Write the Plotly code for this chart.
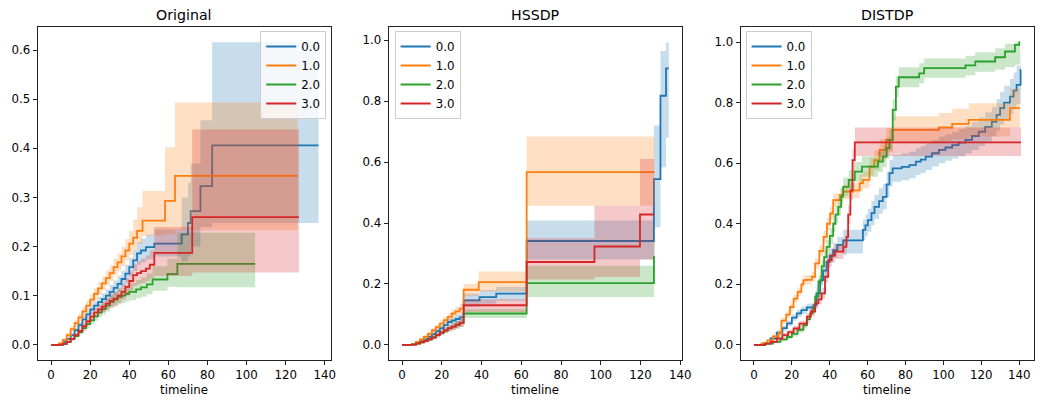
import plotly.graph_objects as go

# ---------------- data ----------------
GROUPS = ["0.0", "1.0", "2.0", "3.0"]
TITLES = ["Original", "HSSDP", "DISTDP"]
X_TICKS = [0, 20, 40, 60, 80, 100, 120, 140]

# ---- Original ----
orig_t0 = [0, 4, 6, 8, 10, 12, 14, 16, 18, 20, 22, 24, 26, 28, 30, 32, 34, 36, 38, 40, 42, 44, 46, 48.5, 52.8, 66.8, 70, 71.4, 76.4, 82.4, 136.8]
orig_v0 = [0, 0.002, 0.006, 0.012, 0.02, 0.03, 0.04, 0.052, 0.062, 0.072, 0.08, 0.087, 0.093, 0.1, 0.108, 0.116, 0.124, 0.134, 0.145, 0.158, 0.172, 0.186, 0.192, 0.199, 0.206, 0.225, 0.248, 0.272, 0.323, 0.406, 0.406]
orig_lo0 = [0, 0.001, 0.004, 0.009, 0.016, 0.025, 0.034, 0.045, 0.054, 0.063, 0.07, 0.076, 0.081, 0.087, 0.094, 0.101, 0.108, 0.117, 0.127, 0.139, 0.151, 0.163, 0.168, 0.174, 0.18, 0.17, 0.18, 0.2, 0.24, 0.248, 0.248]
orig_hi0 = [0, 0.003, 0.008, 0.015, 0.024, 0.035, 0.046, 0.059, 0.07, 0.081, 0.09, 0.098, 0.105, 0.113, 0.122, 0.131, 0.14, 0.151, 0.163, 0.177, 0.193, 0.209, 0.216, 0.224, 0.235, 0.3, 0.33, 0.369, 0.457, 0.616, 0.616]

orig_t1 = [0, 4, 6, 8, 10, 12, 14, 16, 18, 20, 22, 24, 26, 28, 30, 32, 34, 36, 38, 40, 42, 44, 46.8, 58.3, 63.4, 126.2]
orig_v1 = [0, 0.003, 0.01, 0.02, 0.032, 0.044, 0.056, 0.068, 0.08, 0.092, 0.104, 0.115, 0.125, 0.136, 0.146, 0.158, 0.168, 0.18, 0.192, 0.206, 0.218, 0.232, 0.253, 0.293, 0.344, 0.344]
orig_lo1 = [0, 0.001, 0.007, 0.015, 0.026, 0.037, 0.048, 0.059, 0.07, 0.081, 0.092, 0.102, 0.111, 0.121, 0.13, 0.141, 0.15, 0.16, 0.171, 0.183, 0.193, 0.205, 0.222, 0.225, 0.233, 0.233]
orig_hi1 = [0, 0.005, 0.013, 0.025, 0.038, 0.051, 0.064, 0.077, 0.09, 0.103, 0.116, 0.128, 0.139, 0.151, 0.162, 0.175, 0.186, 0.2, 0.215, 0.232, 0.255, 0.28, 0.313, 0.402, 0.493, 0.493]

orig_t2 = [0, 6, 8, 10, 12, 14, 16, 18, 20, 22, 24, 26, 28, 30, 32, 34, 36, 38, 40, 43.5, 46, 49, 51.9, 59.5, 64.6, 104.4]
orig_v2 = [0, 0.002, 0.006, 0.012, 0.018, 0.026, 0.034, 0.042, 0.05, 0.058, 0.066, 0.073, 0.08, 0.087, 0.092, 0.097, 0.1, 0.104, 0.108, 0.113, 0.117, 0.123, 0.133, 0.144, 0.165, 0.165]
orig_lo2 = [0, 0.001, 0.004, 0.009, 0.014, 0.021, 0.028, 0.035, 0.042, 0.049, 0.056, 0.062, 0.068, 0.074, 0.078, 0.082, 0.085, 0.088, 0.091, 0.095, 0.098, 0.103, 0.11, 0.118, 0.117, 0.117]
orig_hi2 = [0, 0.003, 0.008, 0.015, 0.022, 0.031, 0.04, 0.049, 0.058, 0.067, 0.076, 0.084, 0.092, 0.1, 0.106, 0.112, 0.116, 0.121, 0.126, 0.132, 0.137, 0.145, 0.16, 0.175, 0.228, 0.228]

orig_t3 = [0, 6, 8, 10, 12, 14, 16, 18, 20, 22, 24, 26, 28, 30, 32, 34, 36, 38, 40, 42, 44, 46, 48.5, 50.5, 52.8, 72.2, 126.8]
orig_v3 = [0, 0.002, 0.006, 0.012, 0.02, 0.028, 0.038, 0.048, 0.058, 0.066, 0.072, 0.078, 0.084, 0.09, 0.094, 0.1, 0.108, 0.118, 0.13, 0.142, 0.146, 0.15, 0.155, 0.163, 0.187, 0.26, 0.26]
orig_lo3 = [0, 0.001, 0.004, 0.009, 0.016, 0.023, 0.032, 0.041, 0.05, 0.057, 0.062, 0.067, 0.072, 0.077, 0.08, 0.085, 0.092, 0.1, 0.11, 0.12, 0.123, 0.126, 0.13, 0.136, 0.14, 0.147, 0.147]
orig_hi3 = [0, 0.003, 0.008, 0.015, 0.024, 0.033, 0.044, 0.055, 0.066, 0.075, 0.082, 0.089, 0.096, 0.103, 0.108, 0.115, 0.124, 0.136, 0.15, 0.164, 0.17, 0.175, 0.182, 0.192, 0.24, 0.438, 0.438]

# ---- HSSDP ----
hss_t0 = [0, 5, 7, 9, 11, 13, 15, 17, 19, 21, 23, 25, 27, 29, 31, 39, 47.4, 62.7, 126.7, 130, 132.8, 134.2]
hss_v0 = [0, 0.002, 0.006, 0.012, 0.018, 0.026, 0.035, 0.045, 0.055, 0.065, 0.075, 0.08, 0.085, 0.09, 0.146, 0.157, 0.168, 0.341, 0.544, 0.818, 0.908, 0.908]
hss_lo0 = [0, 0.001, 0.004, 0.008, 0.013, 0.02, 0.028, 0.037, 0.046, 0.055, 0.064, 0.068, 0.072, 0.076, 0.125, 0.135, 0.145, 0.28, 0.386, 0.583, 0.681, 0.681]
hss_hi0 = [0, 0.003, 0.008, 0.016, 0.023, 0.032, 0.042, 0.053, 0.064, 0.075, 0.086, 0.092, 0.098, 0.104, 0.168, 0.18, 0.19, 0.408, 0.72, 0.965, 0.993, 0.993]

hss_t1 = [0, 5, 7, 9, 11, 13, 15, 17, 19, 21, 23, 25, 26.9, 29, 31, 38.6, 62.7, 127]
hss_v1 = [0, 0.003, 0.01, 0.018, 0.026, 0.036, 0.048, 0.058, 0.07, 0.081, 0.092, 0.103, 0.11, 0.119, 0.181, 0.206, 0.567, 0.567]
hss_lo1 = [0, 0.001, 0.007, 0.013, 0.02, 0.029, 0.04, 0.049, 0.06, 0.07, 0.08, 0.09, 0.096, 0.104, 0.16, 0.175, 0.457, 0.457]
hss_hi1 = [0, 0.005, 0.013, 0.023, 0.032, 0.043, 0.056, 0.067, 0.08, 0.092, 0.104, 0.116, 0.124, 0.134, 0.2, 0.241, 0.684, 0.684]

hss_t2 = [0, 5, 7, 9, 11, 13, 15, 17, 19, 21, 23, 25, 27, 29, 31, 62.7, 126.7, 127.3]
hss_v2 = [0, 0.001, 0.004, 0.008, 0.012, 0.018, 0.025, 0.032, 0.04, 0.047, 0.054, 0.06, 0.066, 0.072, 0.103, 0.203, 0.288, 0.288]
hss_lo2 = [0, 0, 0.002, 0.005, 0.008, 0.013, 0.019, 0.025, 0.032, 0.038, 0.044, 0.049, 0.054, 0.059, 0.088, 0.157, 0.2, 0.2]
hss_hi2 = [0, 0.002, 0.006, 0.011, 0.016, 0.023, 0.031, 0.039, 0.048, 0.056, 0.064, 0.071, 0.078, 0.085, 0.117, 0.26, 0.39, 0.39]

hss_t3 = [0, 5, 7, 9, 11, 13, 15, 17, 19, 21, 23, 25, 27, 29, 31, 62.7, 96.8, 119.7, 126.7]
hss_v3 = [0, 0.001, 0.004, 0.008, 0.012, 0.018, 0.024, 0.032, 0.04, 0.048, 0.055, 0.06, 0.066, 0.072, 0.13, 0.272, 0.323, 0.428, 0.428]
hss_lo3 = [0, 0, 0.002, 0.005, 0.008, 0.013, 0.018, 0.025, 0.032, 0.039, 0.045, 0.049, 0.054, 0.059, 0.108, 0.215, 0.223, 0.28, 0.28]
hss_hi3 = [0, 0.002, 0.006, 0.011, 0.016, 0.023, 0.03, 0.039, 0.048, 0.057, 0.065, 0.071, 0.078, 0.085, 0.15, 0.35, 0.457, 0.61, 0.61]

# ---- DISTDP ----
dist_t0 = [0, 5, 8.7, 12, 15, 17.4, 20, 22.6, 25, 27.9, 31.4, 33, 34.9, 36.5, 38.3, 40, 41.8, 44, 47.1, 57.5, 58.8, 60.1, 62, 63.6, 66, 68, 70, 71.5, 73.2, 78, 82, 85.4, 88, 90.6, 94, 97.6, 101, 104.6, 108, 111.6, 115, 118.6, 122, 125.5, 128, 129.9, 132, 135.1, 137, 138.6, 140.7, 140.9]
dist_v0 = [0, 0.005, 0.021, 0.04, 0.055, 0.071, 0.09, 0.104, 0.115, 0.124, 0.131, 0.17, 0.214, 0.245, 0.274, 0.295, 0.313, 0.33, 0.345, 0.38, 0.395, 0.412, 0.435, 0.456, 0.475, 0.489, 0.53, 0.567, 0.583, 0.588, 0.594, 0.605, 0.612, 0.622, 0.633, 0.644, 0.652, 0.66, 0.668, 0.677, 0.69, 0.704, 0.72, 0.737, 0.76, 0.782, 0.8, 0.82, 0.84, 0.859, 0.908, 0.908]
dist_lo0 = [0, 0.003, 0.016, 0.033, 0.047, 0.062, 0.08, 0.093, 0.103, 0.111, 0.117, 0.154, 0.196, 0.225, 0.252, 0.272, 0.289, 0.304, 0.302, 0.346, 0.359, 0.374, 0.395, 0.416, 0.433, 0.447, 0.487, 0.523, 0.539, 0.544, 0.55, 0.561, 0.568, 0.578, 0.589, 0.6, 0.608, 0.616, 0.623, 0.632, 0.644, 0.657, 0.672, 0.688, 0.708, 0.728, 0.744, 0.762, 0.78, 0.796, 0.84, 0.84]
dist_hi0 = [0, 0.007, 0.026, 0.047, 0.063, 0.08, 0.1, 0.115, 0.127, 0.137, 0.145, 0.186, 0.232, 0.265, 0.296, 0.318, 0.337, 0.356, 0.38, 0.414, 0.431, 0.45, 0.475, 0.496, 0.517, 0.531, 0.573, 0.611, 0.627, 0.632, 0.638, 0.649, 0.656, 0.666, 0.677, 0.688, 0.696, 0.704, 0.713, 0.722, 0.736, 0.751, 0.768, 0.786, 0.812, 0.836, 0.856, 0.878, 0.9, 0.922, 0.97, 0.97]

dist_t1 = [0, 4, 7, 10, 13, 14.5, 17, 19, 20.9, 23, 25, 26.1, 28, 30.5, 32.3, 34.5, 36.7, 38.5, 40.2, 41.8, 45.3, 47, 52.3, 55.8, 57.5, 61, 63.5, 66.3, 69.7, 73.2, 97.6, 104.6, 113.3, 135.1, 140.4]
dist_v1 = [0, 0.005, 0.015, 0.028, 0.04, 0.08, 0.1, 0.125, 0.153, 0.175, 0.2, 0.214, 0.215, 0.225, 0.269, 0.31, 0.357, 0.4, 0.434, 0.478, 0.495, 0.506, 0.51, 0.534, 0.545, 0.589, 0.61, 0.644, 0.677, 0.71, 0.718, 0.73, 0.743, 0.782, 0.782]
dist_lo1 = [0, 0.003, 0.011, 0.022, 0.032, 0.07, 0.089, 0.113, 0.14, 0.161, 0.185, 0.199, 0.199, 0.209, 0.252, 0.292, 0.338, 0.38, 0.413, 0.456, 0.472, 0.482, 0.485, 0.507, 0.517, 0.559, 0.578, 0.609, 0.637, 0.665, 0.67, 0.68, 0.688, 0.717, 0.717]
dist_hi1 = [0, 0.007, 0.019, 0.034, 0.048, 0.09, 0.111, 0.137, 0.166, 0.189, 0.215, 0.229, 0.231, 0.241, 0.286, 0.328, 0.376, 0.42, 0.455, 0.5, 0.518, 0.53, 0.535, 0.561, 0.573, 0.619, 0.642, 0.679, 0.717, 0.755, 0.766, 0.78, 0.798, 0.847, 0.847]

dist_t2 = [0, 6, 10, 14, 17.4, 20, 23, 26.1, 28, 29.6, 31, 32.3, 34, 35.7, 37, 38.3, 40, 41.8, 43, 44.5, 46, 47.1, 50, 53.2, 57, 65.4, 68, 70, 71.5, 73.2, 74.9, 76.4, 87.2, 89.8, 111.6, 116.8, 127.3, 132.5, 137.7, 140, 140.4]
dist_v2 = [0, 0.004, 0.01, 0.018, 0.026, 0.036, 0.05, 0.065, 0.085, 0.104, 0.12, 0.16, 0.21, 0.26, 0.29, 0.324, 0.36, 0.4, 0.43, 0.456, 0.49, 0.522, 0.545, 0.572, 0.589, 0.605, 0.622, 0.65, 0.677, 0.776, 0.853, 0.884, 0.897, 0.914, 0.923, 0.936, 0.95, 0.969, 0.991, 1.0, 1.0]
dist_lo2 = [0, 0.002, 0.006, 0.012, 0.019, 0.028, 0.04, 0.054, 0.073, 0.091, 0.106, 0.144, 0.192, 0.24, 0.268, 0.301, 0.335, 0.373, 0.402, 0.427, 0.46, 0.491, 0.513, 0.539, 0.555, 0.571, 0.587, 0.615, 0.642, 0.741, 0.819, 0.851, 0.864, 0.882, 0.891, 0.902, 0.91, 0.918, 0.925, 0.93, 0.93]
dist_hi2 = [0, 0.006, 0.014, 0.024, 0.033, 0.044, 0.06, 0.076, 0.097, 0.117, 0.134, 0.176, 0.228, 0.28, 0.312, 0.347, 0.385, 0.427, 0.458, 0.485, 0.52, 0.553, 0.577, 0.605, 0.623, 0.639, 0.657, 0.685, 0.712, 0.811, 0.887, 0.917, 0.93, 0.946, 0.955, 0.967, 0.98, 0.995, 1.0, 1.0, 1.0]

dist_t3 = [0, 6, 9, 12.2, 15, 18, 20.9, 24, 27.9, 30, 32.3, 34, 35.7, 37.5, 39.2, 41, 42.7, 47.1, 48.8, 49.7, 50.9, 52, 53.2, 140.9]
dist_v3 = [0, 0.004, 0.01, 0.021, 0.032, 0.042, 0.054, 0.07, 0.093, 0.11, 0.137, 0.15, 0.17, 0.225, 0.28, 0.295, 0.308, 0.324, 0.357, 0.43, 0.51, 0.61, 0.669, 0.669]
dist_lo3 = [0, 0.002, 0.006, 0.015, 0.025, 0.034, 0.045, 0.06, 0.081, 0.097, 0.122, 0.134, 0.152, 0.205, 0.258, 0.272, 0.284, 0.298, 0.329, 0.4, 0.478, 0.575, 0.624, 0.624]
dist_hi3 = [0, 0.006, 0.014, 0.027, 0.039, 0.05, 0.063, 0.08, 0.105, 0.123, 0.152, 0.166, 0.188, 0.245, 0.302, 0.318, 0.332, 0.35, 0.385, 0.46, 0.542, 0.645, 0.718, 0.718]

# ---------------- styling / layout ----------------
COLORS = ["#1f77b4", "#ff7f0e", "#2ca02c", "#d62728"]
FILLS = ["rgba(31,119,180,0.25)", "rgba(255,127,14,0.25)",
         "rgba(44,160,44,0.25)", "rgba(214,39,40,0.25)"]
FONT = "DejaVu Sans"

# The page body has an 8px default margin, so the figure is drawn at (8, 8)
# inside the 1050x402 window; positions below are window pixels.
OFF = 8
W, H = 1050 - OFF, 402 - OFF


def px_x(px):
    return (px - OFF) / W


def px_y(py):
    return 1 - (py - OFF) / H


panels = [
    dict(series=[(orig_t0, orig_v0, orig_lo0, orig_hi0), (orig_t1, orig_v1, orig_lo1, orig_hi1),
                 (orig_t2, orig_v2, orig_lo2, orig_hi2), (orig_t3, orig_v3, orig_lo3, orig_hi3)],
         px=(38, 334), xr=[-6.83, 143.3], yr=[-0.0308, 0.6468], dy=0.1,
         leg=dict(x=px_x(329), xanchor="right")),
    dict(series=[(hss_t0, hss_v0, hss_lo0, hss_hi0), (hss_t1, hss_v1, hss_lo1, hss_hi1),
                 (hss_t2, hss_v2, hss_lo2, hss_hi2), (hss_t3, hss_v3, hss_lo3, hss_hi3)],
         px=(392, 688), xr=[-6.7, 140.9], yr=[-0.0497, 1.0437], dy=0.2,
         leg=dict(x=px_x(398), xanchor="left")),
    dict(series=[(dist_t0, dist_v0, dist_lo0, dist_hi0), (dist_t1, dist_v1, dist_lo1, dist_hi1),
                 (dist_t2, dist_v2, dist_lo2, dist_hi2), (dist_t3, dist_v3, dist_lo3, dist_hi3)],
         px=(747, 1043), xr=[-7.04, 147.8], yr=[-0.05, 1.05], dy=0.2,
         leg=dict(x=px_x(752), xanchor="left")),
]

PLOT_TOP, PLOT_BOT = 27, 360
y_dom = [px_y(PLOT_BOT), px_y(PLOT_TOP)]

fig = go.Figure()
layout = dict(
    width=W, height=H, margin=dict(l=0, r=0, t=0, b=0),
    paper_bgcolor="white", plot_bgcolor="white",
    font=dict(family=FONT, size=12, color="black"),
    showlegend=True, annotations=[],
)

for i, p in enumerate(panels):
    sfx = "" if i == 0 else str(i + 1)
    xa, ya = "x" + sfx, "y" + sfx
    legname = "legend" + sfx
    for g, (t, v, lo, hi) in enumerate(p["series"]):
        fig.add_trace(go.Scatter(x=t, y=v, xaxis=xa, yaxis=ya, mode="lines",
                                 line=dict(color=COLORS[g], width=1.8, shape="hv"),
                                 name=GROUPS[g], legend=legname, hoverinfo="skip"))
        fig.add_trace(go.Scatter(x=t, y=lo, xaxis=xa, yaxis=ya, mode="lines",
                                 line=dict(width=0, shape="hv"), showlegend=False,
                                 hoverinfo="skip"))
        fig.add_trace(go.Scatter(x=t, y=hi, xaxis=xa, yaxis=ya, mode="lines",
                                 line=dict(width=0, shape="hv"), fill="tonexty",
                                 fillcolor=FILLS[g], showlegend=False, hoverinfo="skip"))
    dom = [px_x(p["px"][0]), px_x(p["px"][1])]
    nt = int(round((p["yr"][1]) / p["dy"])) + 1
    yticks = [round(k * p["dy"], 1) for k in range(nt) if k * p["dy"] <= p["yr"][1]]
    axis_common = dict(showline=True, mirror=True, linecolor="#222", linewidth=1,
                       ticks="outside", ticklen=4, tickwidth=1, tickcolor="#222",
                       showgrid=False, zeroline=False,
                       tickfont=dict(family=FONT, size=11.8, color="black"))
    layout["xaxis" + sfx] = dict(domain=dom, range=p["xr"], anchor=ya,
                                 tickmode="array", tickvals=X_TICKS, **axis_common)
    layout["yaxis" + sfx] = dict(domain=y_dom, range=p["yr"], anchor=xa,
                                 tickmode="array", tickvals=yticks, tickformat=".1f",
                                 **axis_common)
    layout[legname] = dict(x=p["leg"]["x"], xanchor=p["leg"]["xanchor"],
                           y=px_y(31), yanchor="top", traceorder="normal",
                           bgcolor="rgba(255,255,255,0.8)", bordercolor="#cccccc",
                           borderwidth=1, font=dict(family=FONT, size=11.8, color="black"),
                           itemwidth=30, tracegroupgap=0)
    cx = (dom[0] + dom[1]) / 2
    layout["annotations"].append(dict(text=TITLES[i], x=cx, y=px_y(15), xref="paper",
                                      yref="paper", xanchor="center", yanchor="middle",
                                      showarrow=False,
                                      font=dict(family=FONT, size=14.2, color="black")))
    layout["annotations"].append(dict(text="timeline", x=cx, y=px_y(390), xref="paper",
                                      yref="paper", xanchor="center", yanchor="middle",
                                      showarrow=False,
                                      font=dict(family=FONT, size=11.8, color="black")))

fig.update_layout(**layout)
fig.write_html("out.html")
